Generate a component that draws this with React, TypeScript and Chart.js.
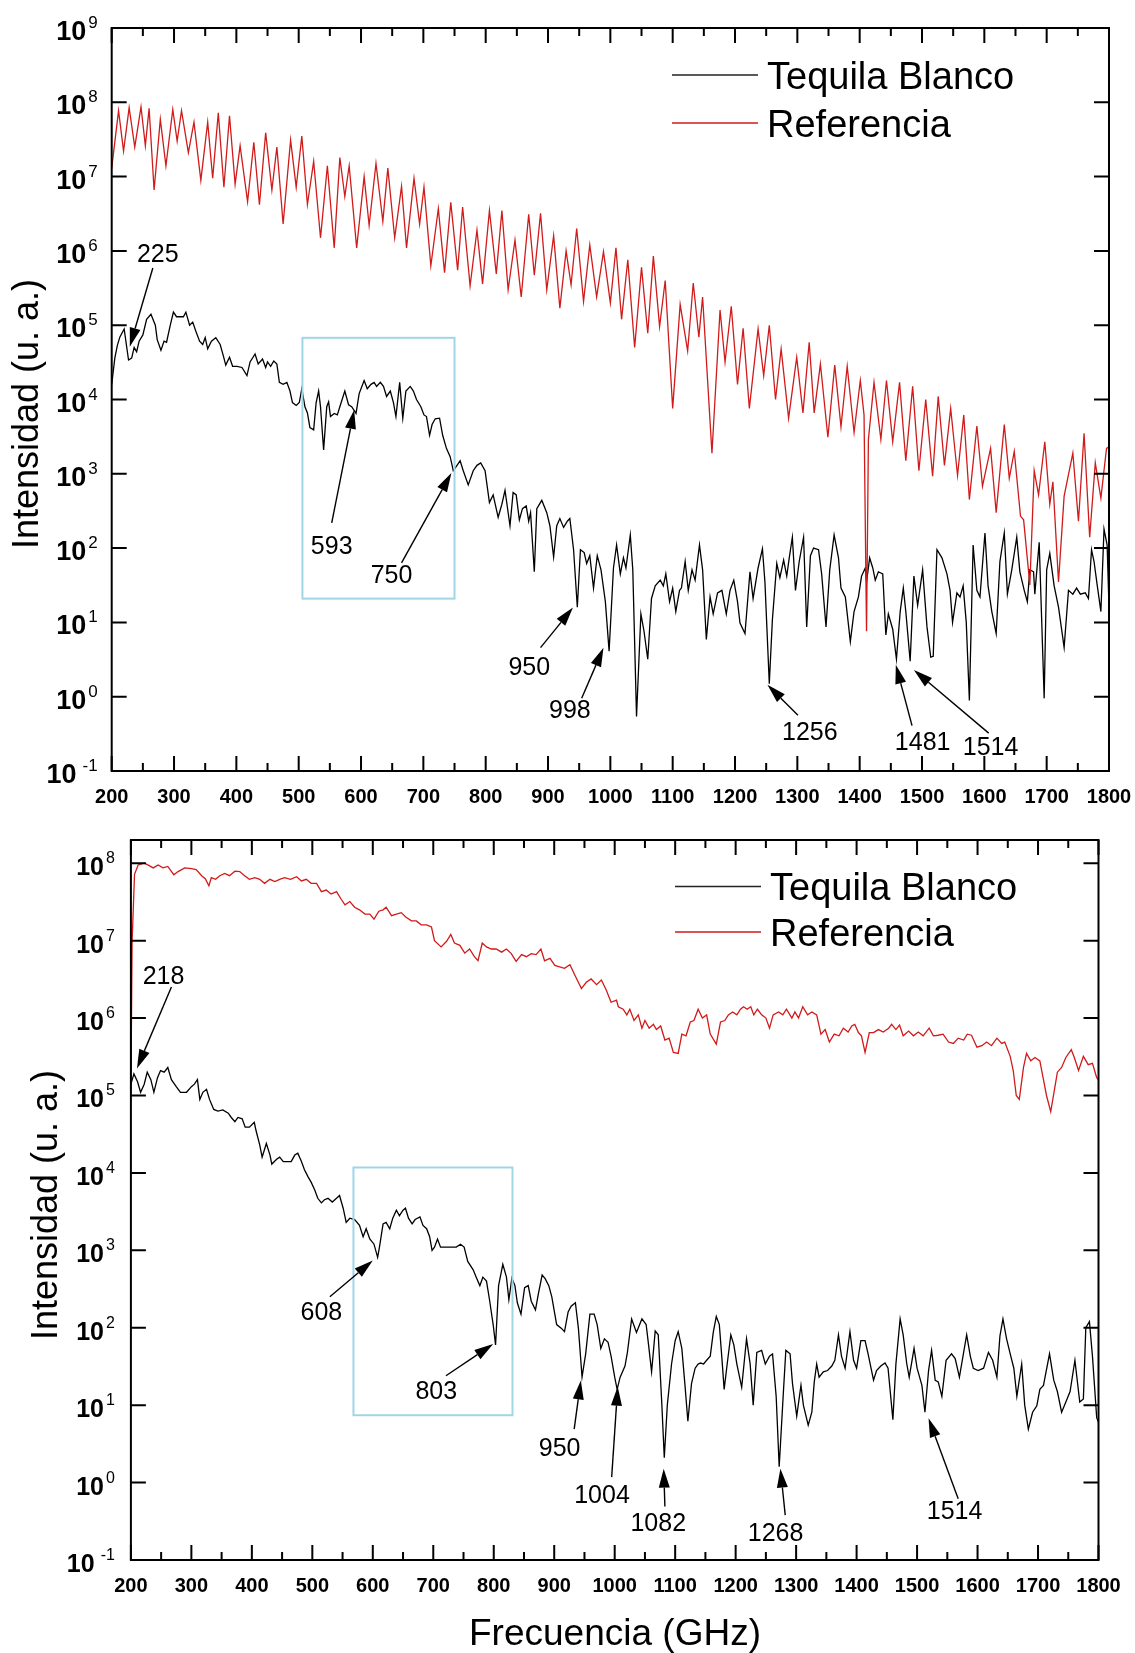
import React, { useEffect, useRef } from "react";
import { Chart, registerables } from "chart.js";

Chart.register(...registerables);

const FONT = "'Liberation Sans', Arial, Helvetica, sans-serif";
const RED = "#d11a1a";
const BLACK = "#000000";
const CYAN = "#9fd6e6";

// ---------- axis ticks ----------
const xMajorTicks = [200, 300, 400, 500, 600, 700, 800, 900, 1000, 1100, 1200, 1300, 1400, 1500, 1600, 1700, 1800];
const xMinorTicks = [250, 350, 450, 550, 650, 750, 850, 950, 1050, 1150, 1250, 1350, 1450, 1550, 1650, 1750];
const topDecades = [9, 8, 7, 6, 5, 4, 3, 2, 1, 0, -1];
const bottomDecades = [8, 7, 6, 5, 4, 3, 2, 1, 0, -1];

// ---------- top panel data: [frequency GHz, intensity u.a.] ----------
const topReferencia: [number, number][] = [
  [200, 1.3e7], [211, 7.7e7], [219, 2.2e7], [228, 8.5e7], [237, 2.5e7], [247, 8.7e7], [254, 2.6e7], [260, 8.3e7],
  [268, 6.6e6], [278, 5.9e7], [287, 1.4e7], [298, 8.0e7], [305, 3.0e7], [312, 7.7e7], [323, 2.1e7], [332, 5.4e7],
  [343, 8.9e6], [354, 5.4e7], [362, 9.5e6], [371, 7.2e7], [380, 7.2e6], [389, 6.6e7], [398, 7.9e6], [406, 2.6e7],
  [418, 4.6e6], [428, 2.9e7], [437, 4.2e6], [447, 3.9e7], [457, 6.6e6], [465, 2.5e7], [475, 2.3e6], [487, 3.1e7],
  [496, 7.2e6], [505, 3.5e7], [514, 4.2e6], [524, 1.6e7], [535, 1.5e6], [546, 1.4e7], [557, 1.1e6], [566, 1.8e7],
  [574, 5.4e6], [581, 1.4e7], [593, 1.1e6], [605, 1.0e7], [613, 2.2e6], [624, 1.5e7], [635, 2.5e6], [643, 1.3e7],
  [654, 1.5e6], [665, 7.4e6], [673, 1.1e6], [685, 9.5e6], [694, 2.3e6], [701, 7.2e6], [712, 6.3e5], [724, 3.7e6],
  [734, 5.1e5], [744, 4.5e6], [755, 5.5e5], [763, 3.9e6], [775, 3.4e5], [786, 1.9e6], [795, 3.6e5], [806, 3.5e6],
  [817, 4.9e5], [826, 3.5e6], [836, 3.0e5], [847, 1.4e6], [857, 2.4e5], [869, 3.1e6], [878, 4.7e5], [888, 3.2e6],
  [898, 3.0e5], [909, 1.6e6], [919, 1.7e5], [929, 1.0e6], [937, 3.5e5], [946, 2.0e6], [957, 2.1e5], [967, 1.2e6],
  [978, 2.4e5], [989, 9.8e5], [1000, 2.0e5], [1009, 1.1e6], [1018, 1.2e5], [1028, 7.6e5], [1039, 5.0e4], [1050, 6.0e5],
  [1060, 7.8e4], [1069, 8.5e5], [1079, 9.6e4], [1088, 4.0e5], [1100, 7.6e3], [1112, 1.9e5], [1124, 4.5e4], [1133, 3.7e5],
  [1142, 6.9e4], [1148, 2.4e5], [1163, 1.9e3], [1176, 1.6e5], [1184, 3.2e4], [1194, 1.8e5], [1204, 1.6e4], [1213, 9.1e4],
  [1223, 7.6e3], [1237, 8.9e4], [1246, 2.1e4], [1255, 1.0e5], [1265, 1.0e4], [1274, 4.8e4], [1286, 5.6e3], [1299, 3.7e4],
  [1309, 6.6e3], [1319, 5.9e4], [1327, 6.6e3], [1337, 3.0e4], [1349, 3.1e3], [1360, 2.9e4], [1370, 4.3e3], [1380, 2.8e4],
  [1391, 3.6e3], [1401, 1.8e4], [1407, 6.2e3], [1411, 7.6], [1414, 2.9e3], [1423, 1.7e4], [1434, 2.9e3], [1443, 1.8e4],
  [1453, 2.7e3], [1464, 1.7e4], [1474, 1.5e3], [1485, 1.5e4], [1495, 1.1e3], [1506, 1.0e4], [1517, 9.3e2], [1526, 1.1e4],
  [1536, 1.3e3], [1546, 7.6e3], [1557, 9.5e2], [1567, 6.2e3], [1576, 4.5e2], [1588, 4.4e3], [1597, 6.8e2], [1610, 2.2e3],
  [1619, 3.0e2], [1632, 4.6e3], [1640, 8.7e2], [1648, 2.0e3], [1658, 2.7e2], [1663, 2.4e2], [1673, 32], [1680, 1.1e3],
  [1687, 5.2e2], [1697, 2.7e3], [1705, 3.9e2], [1710, 7.8e2], [1719, 35], [1728, 5.0e2], [1742, 1.9e3], [1751, 2.3e2],
  [1760, 3.5e3], [1769, 1.4e2], [1778, 1.4e3], [1787, 4.7e2], [1796, 2.2e3], [1800, 2.3e3],
];

const topTequila: [number, number][] = [
  [200, 1.6e4], [205, 3.6e4], [209, 5.3e4], [213, 6.9e4], [220, 8.9e4], [227, 3.4e4], [232, 3.6e4], [236, 5.0e4],
  [240, 4.4e4], [244, 6.1e4], [250, 7.4e4], [256, 1.2e5], [263, 1.4e5], [270, 1.0e5], [273, 6.4e4], [279, 4.6e4],
  [284, 6.1e4], [288, 5.9e4], [294, 1.0e5], [299, 1.5e5], [304, 1.3e5], [311, 1.3e5], [315, 1.3e5], [319, 1.5e5],
  [325, 1.0e5], [330, 1.1e5], [335, 8.3e4], [341, 6.1e4], [346, 5.5e4], [350, 6.8e4], [354, 4.8e4], [360, 6.1e4],
  [367, 6.8e4], [374, 5.5e4], [379, 3.9e4], [383, 2.9e4], [389, 3.7e4], [394, 2.8e4], [401, 2.8e4], [409, 2.7e4],
  [417, 2.1e4], [422, 3.2e4], [430, 4.1e4], [435, 3.0e4], [442, 3.5e4], [447, 2.7e4], [450, 3.2e4], [455, 2.8e4],
  [460, 3.3e4], [465, 3.0e4], [469, 1.7e4], [475, 1.6e4], [481, 1.7e4], [486, 1.3e4], [490, 9.1e3], [496, 8.3e3],
  [501, 9.1e3], [505, 1.4e4], [510, 8.0e3], [514, 6.6e3], [518, 4.2e3], [524, 3.9e3], [528, 9.1e3], [532, 1.3e4],
  [535, 8.0e3], [540, 2.1e3], [545, 8.0e3], [548, 9.3e3], [551, 5.9e3], [557, 6.5e3], [562, 6.2e3], [566, 8.0e3],
  [574, 1.3e4], [580, 8.5e3], [585, 8.0e3], [592, 6.5e3], [597, 1.2e4], [605, 1.8e4], [610, 1.4e4], [616, 1.6e4],
  [621, 1.7e4], [625, 1.5e4], [631, 1.7e4], [636, 1.5e4], [641, 1.1e4], [647, 1.3e4], [652, 9.1e3], [656, 5.9e3],
  [662, 1.7e4], [667, 5.6e3], [672, 1.3e4], [679, 1.5e4], [684, 1.3e4], [689, 1.0e4], [696, 8.0e3], [701, 6.2e3],
  [705, 5.9e3], [710, 3.3e3], [714, 4.6e3], [719, 5.5e3], [726, 5.6e3], [731, 3.3e3], [737, 2.2e3], [743, 1.7e3],
  [748, 1.1e3], [754, 1.3e3], [759, 1.5e3], [764, 1.1e3], [772, 7.1e2], [780, 1.1e3], [786, 1.3e3], [792, 1.4e3],
  [799, 1.1e3], [806, 4.1e2], [812, 5.2e2], [820, 2.6e2], [826, 3.9e2], [831, 6.0e2], [839, 2.0e2], [844, 5.6e2],
  [849, 5.2e2], [854, 2.4e2], [859, 3.4e2], [865, 3.7e2], [869, 2.3e2], [872, 3.0e2], [878, 48], [882, 3.4e2],
  [890, 4.4e2], [898, 3.0e2], [903, 2.0e2], [909, 76], [914, 2.0e2], [919, 2.5e2], [925, 1.9e2], [931, 2.3e2],
  [935, 2.5e2], [941, 95], [947, 16], [952, 95], [958, 87], [962, 62], [967, 79], [973, 29],
  [979, 79], [985, 51], [992, 19], [998, 4.1], [1005, 54], [1010, 110], [1016, 45], [1021, 74],
  [1025, 54], [1032, 150], [1036, 51], [1042, 0.54], [1049, 13], [1054, 7.6], [1060, 3.2], [1066, 21],
  [1072, 31], [1080, 37], [1085, 31], [1089, 45], [1095, 19], [1100, 29], [1105, 14], [1111, 27],
  [1114, 29], [1120, 66], [1125, 27], [1131, 51], [1136, 37], [1143, 110], [1148, 51], [1154, 5.9],
  [1160, 22], [1165, 13], [1172, 25], [1179, 27], [1186, 13], [1192, 27], [1198, 37], [1204, 19],
  [1208, 9.8], [1216, 7.1], [1224, 48], [1229, 21], [1237, 54], [1244, 98], [1248, 35], [1255, 1.5],
  [1260, 11], [1267, 62], [1272, 40], [1278, 69], [1283, 42], [1287, 74], [1292, 140], [1297, 27],
  [1303, 66], [1310, 140], [1315, 8.7], [1321, 79], [1326, 100], [1334, 95], [1339, 45], [1346, 8.7],
  [1352, 51], [1359, 150], [1366, 74], [1370, 29], [1377, 22], [1385, 5.5], [1391, 14], [1398, 22],
  [1403, 42], [1409, 54], [1411, 35], [1416, 74], [1421, 54], [1425, 37], [1430, 48], [1437, 45],
  [1442, 6.8], [1446, 13], [1453, 8.1], [1459, 3.2], [1465, 14], [1470, 29], [1474, 14], [1481, 3.0],
  [1487, 42], [1493, 17], [1501, 51], [1508, 8.7], [1514, 3.4], [1518, 3.5], [1524, 95], [1532, 74],
  [1540, 45], [1545, 27], [1549, 10], [1556, 25], [1561, 22], [1566, 31], [1571, 10], [1576, 0.89],
  [1582, 110], [1588, 27], [1593, 22], [1601, 160], [1606, 31], [1612, 14], [1619, 7.1], [1625, 66],
  [1632, 160], [1637, 24], [1644, 51], [1652, 140], [1657, 48], [1664, 27], [1669, 19], [1673, 51],
  [1679, 48], [1681, 24], [1688, 120], [1696, 0.95], [1700, 51], [1705, 85], [1712, 31], [1719, 16],
  [1728, 4.6], [1735, 27], [1742, 24], [1748, 29], [1754, 24], [1762, 25], [1767, 21], [1772, 95],
  [1776, 66], [1781, 32], [1787, 14], [1792, 180], [1797, 110], [1800, 16],
];

// ---------- bottom panel data ----------
const bottomReferencia: [number, number][] = [
  [200, 1.1e5], [202, 9.8e6], [206, 7.2e7], [212, 9.5e7], [222, 1.0e8], [228, 9.5e7], [237, 8.7e7], [245, 9.5e7],
  [253, 8.7e7], [261, 9.1e7], [271, 7.1e7], [278, 7.8e7], [289, 8.7e7], [300, 8.5e7], [308, 8.3e7], [317, 6.9e7],
  [323, 6.3e7], [329, 5.1e7], [333, 6.5e7], [340, 6.2e7], [347, 6.9e7], [355, 7.4e7], [363, 6.9e7], [372, 7.9e7],
  [380, 7.8e7], [388, 6.9e7], [396, 6.2e7], [405, 6.5e7], [413, 6.2e7], [421, 5.5e7], [430, 6.2e7], [438, 5.8e7],
  [446, 6.2e7], [454, 6.5e7], [464, 6.2e7], [474, 6.7e7], [482, 5.9e7], [490, 6.2e7], [498, 5.5e7], [507, 5.5e7],
  [515, 4.3e7], [523, 4.5e7], [531, 4.0e7], [540, 4.3e7], [548, 3.4e7], [554, 2.9e7], [562, 3.2e7], [570, 2.7e7],
  [578, 2.5e7], [587, 2.2e7], [595, 2.2e7], [602, 1.9e7], [610, 2.4e7], [617, 2.5e7], [622, 2.7e7], [631, 2.1e7],
  [639, 2.2e7], [647, 2.3e7], [655, 2.0e7], [664, 1.8e7], [672, 1.8e7], [680, 1.6e7], [689, 1.6e7], [697, 1.5e7],
  [702, 1.0e7], [713, 8.3e6], [722, 9.8e6], [729, 1.2e7], [735, 9.3e6], [744, 8.7e6], [752, 6.9e6], [760, 7.8e6],
  [768, 6.2e6], [774, 5.5e6], [781, 9.3e6], [788, 8.3e6], [796, 7.8e6], [804, 7.8e6], [813, 7.1e6], [821, 7.8e6],
  [829, 6.8e6], [837, 5.4e6], [846, 6.6e6], [854, 6.2e6], [862, 6.8e6], [870, 6.6e6], [878, 7.8e6], [884, 5.5e6],
  [893, 5.9e6], [901, 4.8e6], [909, 4.6e6], [917, 4.4e6], [926, 4.9e6], [934, 3.6e6], [945, 2.4e6], [953, 2.9e6],
  [961, 3.2e6], [970, 2.7e6], [978, 3.1e6], [986, 2.3e6], [994, 1.6e6], [1003, 1.7e6], [1006, 1.4e6], [1014, 1.3e6],
  [1020, 1.1e6], [1025, 1.3e6], [1032, 9.3e5], [1039, 1.1e6], [1045, 7.4e5], [1050, 9.3e5], [1057, 7.4e5], [1064, 8.3e5],
  [1069, 7.1e5], [1076, 7.9e5], [1083, 5.2e5], [1090, 5.5e5], [1097, 3.6e5], [1105, 3.5e5], [1111, 6.2e5], [1118, 5.9e5],
  [1125, 8.9e5], [1131, 9.3e5], [1138, 1.3e6], [1145, 1.0e6], [1152, 1.1e6], [1158, 6.2e5], [1168, 4.6e5], [1175, 8.9e5],
  [1182, 9.3e5], [1188, 1.1e6], [1195, 1.2e6], [1202, 1.1e6], [1208, 1.3e6], [1213, 1.4e6], [1219, 1.3e6], [1225, 1.4e6],
  [1230, 1.1e6], [1236, 1.3e6], [1243, 1.1e6], [1250, 1.0e6], [1256, 7.4e5], [1262, 1.1e6], [1271, 1.2e6], [1278, 1.1e6],
  [1284, 1.3e6], [1293, 1.0e6], [1298, 1.2e6], [1304, 1.0e6], [1311, 1.4e6], [1319, 1.1e6], [1326, 1.2e6], [1334, 1.1e6],
  [1341, 6.2e5], [1348, 7.1e5], [1355, 4.9e5], [1363, 6.2e5], [1371, 5.9e5], [1378, 7.4e5], [1386, 6.6e5], [1392, 7.9e5],
  [1397, 8.3e5], [1403, 6.5e5], [1408, 5.9e5], [1414, 3.6e5], [1421, 6.5e5], [1428, 6.5e5], [1436, 7.1e5], [1444, 6.6e5],
  [1453, 7.4e5], [1458, 8.3e5], [1465, 7.1e5], [1471, 8.1e5], [1477, 5.9e5], [1486, 6.8e5], [1494, 5.9e5], [1502, 6.6e5],
  [1510, 5.9e5], [1520, 7.4e5], [1527, 5.9e5], [1535, 6.0e5], [1543, 6.2e5], [1552, 4.9e5], [1560, 4.7e5], [1568, 5.5e5],
  [1577, 5.2e5], [1583, 6.2e5], [1590, 6.0e5], [1599, 4.2e5], [1607, 4.4e5], [1615, 4.9e5], [1623, 4.4e5], [1632, 5.5e5],
  [1640, 4.7e5], [1645, 4.9e5], [1654, 3.2e5], [1659, 2.1e5], [1664, 1.0e5], [1669, 8.9e4], [1676, 2.3e5], [1681, 3.5e5],
  [1688, 2.8e5], [1695, 3.1e5], [1703, 2.8e5], [1709, 1.6e5], [1714, 1.0e5], [1721, 6.2e4], [1728, 1.3e5], [1732, 2.0e5],
  [1739, 2.3e5], [1746, 3.1e5], [1755, 3.9e5], [1760, 3.1e5], [1767, 2.1e5], [1775, 3.2e5], [1783, 2.5e5], [1790, 2.6e5],
  [1797, 1.7e5], [1800, 1.6e5],
];

const bottomTequila: [number, number][] = [
  [200, 1.4e5], [205, 1.9e5], [211, 1.5e5], [216, 1.1e5], [222, 1.4e5], [227, 2.0e5], [233, 1.6e5], [238, 1.1e5],
  [244, 1.7e5], [249, 2.1e5], [255, 2.0e5], [261, 2.3e5], [267, 1.6e5], [275, 1.3e5], [282, 1.1e5], [292, 1.1e5],
  [300, 1.3e5], [305, 1.4e5], [310, 1.6e5], [314, 8.9e4], [319, 1.1e5], [325, 1.2e5], [330, 8.9e4], [337, 6.6e4],
  [344, 6.3e4], [352, 6.5e4], [361, 5.9e4], [366, 5.2e4], [372, 4.6e4], [377, 5.2e4], [384, 5.0e4], [389, 3.9e4],
  [396, 3.9e4], [404, 4.5e4], [407, 3.5e4], [413, 2.3e4], [417, 1.6e4], [424, 2.4e4], [430, 1.7e4], [433, 1.3e4],
  [441, 1.5e4], [446, 1.6e4], [452, 1.4e4], [457, 1.4e4], [465, 1.4e4], [471, 1.7e4], [476, 1.8e4], [482, 1.4e4],
  [487, 1.1e4], [493, 8.9e3], [498, 7.6e3], [504, 6.0e3], [509, 4.7e3], [515, 4.1e3], [520, 4.5e3], [526, 4.7e3],
  [533, 4.2e3], [540, 4.7e3], [545, 5.1e3], [551, 3.5e3], [556, 2.3e3], [562, 2.6e3], [570, 2.5e3], [578, 2.1e3],
  [584, 1.5e3], [589, 1.9e3], [595, 1.4e3], [602, 1.2e3], [608, 8.1e2], [611, 1.1e3], [617, 2.2e3], [622, 2.3e3],
  [628, 1.9e3], [633, 2.6e3], [639, 3.3e3], [644, 2.8e3], [650, 3.3e3], [654, 3.5e3], [659, 2.6e3], [665, 2.2e3],
  [670, 2.5e3], [678, 2.7e3], [683, 2.1e3], [689, 1.9e3], [694, 1.5e3], [698, 1.0e3], [702, 1.1e3], [707, 1.4e3],
  [712, 1.1e3], [719, 1.1e3], [724, 1.1e3], [731, 1.1e3], [738, 1.1e3], [745, 1.2e3], [751, 1.1e3], [757, 7.2e2],
  [766, 5.6e2], [771, 4.5e2], [777, 3.5e2], [782, 4.5e2], [788, 4.0e2], [793, 2.3e2], [799, 1.1e2], [803, 60],
  [808, 3.5e2], [815, 6.6e2], [821, 4.5e2], [825, 2.3e2], [830, 4.4e2], [835, 3.5e2], [839, 2.1e2], [845, 1.5e2],
  [851, 3.3e2], [857, 3.5e2], [862, 2.2e2], [869, 1.7e2], [874, 2.8e2], [880, 4.8e2], [885, 4.3e2], [891, 3.5e2],
  [896, 2.5e2], [904, 1.1e2], [912, 98], [917, 89], [923, 160], [928, 190], [935, 210], [940, 98],
  [946, 23], [952, 46], [959, 150], [966, 150], [971, 110], [977, 54], [983, 72], [989, 65],
  [994, 43], [1000, 23], [1004, 16], [1009, 23], [1017, 32], [1021, 48], [1028, 130], [1036, 87],
  [1045, 130], [1052, 110], [1056, 60], [1061, 27], [1067, 91], [1072, 81], [1078, 10], [1082, 2.1],
  [1087, 10], [1094, 34], [1100, 68], [1105, 89], [1111, 54], [1116, 19], [1121, 6.2], [1127, 19],
  [1133, 30], [1138, 34], [1142, 35], [1147, 34], [1152, 38], [1158, 43], [1163, 87], [1168, 140],
  [1173, 110], [1177, 43], [1181, 16], [1186, 34], [1192, 81], [1197, 60], [1202, 34], [1210, 17],
  [1218, 72], [1224, 34], [1229, 10], [1235, 48], [1243, 51], [1249, 34], [1256, 43], [1261, 46],
  [1267, 13], [1272, 1.6], [1279, 15], [1283, 51], [1290, 46], [1294, 19], [1301, 7.2], [1308, 18],
  [1312, 10], [1320, 5.5], [1326, 8.1], [1330, 20], [1334, 34], [1338, 23], [1345, 27], [1352, 28],
  [1359, 32], [1364, 38], [1370, 81], [1375, 43], [1381, 30], [1389, 89], [1395, 38], [1400, 30],
  [1407, 68], [1414, 68], [1419, 46], [1428, 21], [1433, 28], [1440, 32], [1447, 35], [1452, 30],
  [1460, 6.5], [1465, 34], [1472, 130], [1477, 81], [1483, 34], [1487, 23], [1495, 54], [1500, 30],
  [1508, 18], [1513, 8.1], [1519, 28], [1524, 51], [1530, 21], [1535, 20], [1541, 13], [1548, 38],
  [1557, 46], [1563, 40], [1570, 23], [1577, 48], [1582, 81], [1588, 43], [1593, 30], [1601, 28],
  [1610, 30], [1618, 48], [1625, 38], [1632, 23], [1637, 78], [1642, 130], [1648, 72], [1654, 46],
  [1660, 30], [1665, 13], [1673, 34], [1678, 10], [1684, 4.9], [1691, 8.1], [1698, 9.8], [1703, 16],
  [1709, 18], [1719, 46], [1726, 21], [1732, 15], [1739, 8.1], [1746, 11], [1753, 15], [1761, 38],
  [1769, 11], [1775, 12], [1779, 100], [1785, 120], [1790, 43], [1797, 6.9], [1800, 6.0],
];

// ---------- annotations (label, text position, arrow tail, arrow tip) in data units ----------
type Ann = { label: string; text: [number, number]; from: [number, number]; to: [number, number] };

const topAnnotations: Ann[] = [
  { label: "225", text: [274, 10 ** 5.94], from: [266, 10 ** 5.77], to: [229, 10 ** 4.71] },
  { label: "593", text: [553, 10 ** 2.02], from: [553, 10 ** 2.34], to: [589, 10 ** 3.86] },
  { label: "750", text: [649, 10 ** 1.62], from: [665, 10 ** 1.8], to: [745, 10 ** 3.01] },
  { label: "950", text: [870, 10 ** 0.39], from: [888, 10 ** 0.66], to: [940, 10 ** 1.2] },
  { label: "998", text: [935, 10 ** -0.2], from: [954, 10 ** -0.02], to: [989, 10 ** 0.66] },
  { label: "1256", text: [1320, 10 ** -0.49], from: [1301, 10 ** -0.25], to: [1252, 10 ** 0.16] },
  { label: "1481", text: [1501, 10 ** -0.63], from: [1484, 10 ** -0.39], to: [1458, 10 ** 0.43] },
  { label: "1514", text: [1610, 10 ** -0.69], from: [1607, 10 ** -0.49], to: [1487, 10 ** 0.36] },
];

const bottomAnnotations: Ann[] = [
  { label: "218", text: [254, 10 ** 6.53], from: [267, 10 ** 6.4], to: [210, 10 ** 5.35] },
  { label: "608", text: [515, 10 ** 2.19], from: [529, 10 ** 2.4], to: [600, 10 ** 2.87] },
  { label: "803", text: [705, 10 ** 1.17], from: [721, 10 ** 1.38], to: [799, 10 ** 1.79] },
  { label: "950", text: [909, 10 ** 0.43], from: [933, 10 ** 0.69], to: [944, 10 ** 1.32] },
  { label: "1004", text: [979, 10 ** -0.18], from: [995, 10 ** 0.07], to: [1005, 10 ** 1.24] },
  { label: "1082", text: [1072, 10 ** -0.53], from: [1083, 10 ** -0.31], to: [1081, 10 ** 0.18] },
  { label: "1268", text: [1266, 10 ** -0.66], from: [1282, 10 ** -0.42], to: [1274, 10 ** 0.18] },
  { label: "1514", text: [1562, 10 ** -0.38], from: [1568, 10 ** -0.21], to: [1519, 10 ** 0.83] },
];

// highlighted regions [fMin, fMax, yTop, yBottom]
const topBox: [number, number, number, number] = [506, 750, 10 ** 4.83, 10 ** 1.32];
const bottomBox: [number, number, number, number] = [568, 831, 10 ** 4.07, 10 ** 0.87];

type PanelCfg = {
  height: number;
  padding: { left: number; top: number; right: number; bottom: number };
  yMax: number;
  decades: number[];
  yFont: number;
  supFont: number;
  labelGap: number;
  legend: { x: number; dy1: number; dy2: number };
  yTitle: { x: number; y: number };
  xTitle: { x: number; y: number } | null;
  box: [number, number, number, number];
  annotations: Ann[];
  referencia: [number, number][];
  tequila: [number, number][];
};

function drawArrow(ctx: CanvasRenderingContext2D, x0: number, y0: number, x1: number, y1: number) {
  const ang = Math.atan2(y1 - y0, x1 - x0);
  const hl = 19;
  const hw = 5.5;
  const bx = x1 - hl * Math.cos(ang);
  const by = y1 - hl * Math.sin(ang);
  ctx.beginPath();
  ctx.moveTo(x0, y0);
  ctx.lineTo(bx, by);
  ctx.stroke();
  ctx.beginPath();
  ctx.moveTo(x1, y1);
  ctx.lineTo(bx + hw * Math.sin(ang), by - hw * Math.cos(ang));
  ctx.lineTo(bx - hw * Math.sin(ang), by + hw * Math.cos(ang));
  ctx.closePath();
  ctx.fill();
}

function makePlugin(cfg: PanelCfg) {
  return {
    id: "panelDecor",
    afterDatasetsDraw(chart: any) {
      const ctx: CanvasRenderingContext2D = chart.ctx;
      const a = chart.chartArea;
      const xs = chart.scales.x;
      const ys = chart.scales.y;
      ctx.save();

      // highlighted box
      const [b0, b1, bt, bb] = cfg.box;
      ctx.strokeStyle = CYAN;
      ctx.lineWidth = 2;
      const bxL = xs.getPixelForValue(b0);
      const bxR = xs.getPixelForValue(b1);
      const byT = ys.getPixelForValue(bt);
      const byB = ys.getPixelForValue(bb);
      ctx.strokeRect(bxL, byT, bxR - bxL, byB - byT);

      // frame
      ctx.strokeStyle = BLACK;
      ctx.lineWidth = 2;
      ctx.strokeRect(a.left, a.top, a.right - a.left, a.bottom - a.top);

      // x ticks (inward, top and bottom)
      ctx.lineWidth = 2;
      ctx.beginPath();
      const xTick = (v: number, len: number) => {
        const px = xs.getPixelForValue(v);
        ctx.moveTo(px, a.bottom);
        ctx.lineTo(px, a.bottom - len);
        ctx.moveTo(px, a.top);
        ctx.lineTo(px, a.top + len);
      };
      xMajorTicks.forEach((v) => xTick(v, 15));
      xMinorTicks.forEach((v) => xTick(v, 8));
      // y ticks (inward, left and right)
      cfg.decades.forEach((e) => {
        const py = ys.getPixelForValue(10 ** e);
        ctx.moveTo(a.left, py);
        ctx.lineTo(a.left + 15, py);
        ctx.moveTo(a.right, py);
        ctx.lineTo(a.right - 15, py);
      });
      ctx.stroke();

      // x tick labels
      ctx.fillStyle = BLACK;
      ctx.font = `bold 20px ${FONT}`;
      ctx.textAlign = "center";
      ctx.textBaseline = "alphabetic";
      xMajorTicks.forEach((v) => {
        ctx.fillText(String(v), xs.getPixelForValue(v), a.bottom + 32);
      });

      // y tick labels 10^e
      cfg.decades.forEach((e) => {
        const py = ys.getPixelForValue(10 ** e);
        const sup = e < 0 ? "-" + String(-e) : String(e);
        ctx.font = `${cfg.supFont}px ${FONT}`;
        const wSup = ctx.measureText(sup).width;
        ctx.font = `bold ${cfg.yFont}px ${FONT}`;
        const wBase = ctx.measureText("10").width;
        const xRight = a.left - cfg.labelGap;
        const x0 = xRight - wSup - (e < 0 ? 6 : 2) - wBase;
        ctx.textAlign = "left";
        ctx.fillText("10", x0, py + 12);
        ctx.font = `${cfg.supFont}px ${FONT}`;
        ctx.fillText(sup, x0 + wBase + (e < 0 ? 6 : 2), py);
      });

      // axis titles
      ctx.font = `36px ${FONT}`;
      ctx.textAlign = "center";
      ctx.textBaseline = "middle";
      ctx.save();
      ctx.translate(cfg.yTitle.x, cfg.yTitle.y);
      ctx.rotate(-Math.PI / 2);
      ctx.fillText("Intensidad (u. a.)", 0, 0);
      ctx.restore();
      if (cfg.xTitle) {
        ctx.font = `37px ${FONT}`;
        ctx.textBaseline = "alphabetic";
        ctx.fillText("Frecuencia (GHz)", cfg.xTitle.x, cfg.xTitle.y);
      }

      // legend
      const lx = a.right - cfg.legend.x;
      const rows: [string, string, number][] = [
        ["Tequila Blanco", "#222222", a.top + cfg.legend.dy1],
        ["Referencia", RED, a.top + cfg.legend.dy2],
      ];
      rows.forEach(([label, color, ly]) => {
        ctx.strokeStyle = color;
        ctx.lineWidth = 1.5;
        ctx.beginPath();
        ctx.moveTo(lx, ly);
        ctx.lineTo(lx + 86, ly);
        ctx.stroke();
        ctx.fillStyle = BLACK;
        ctx.font = `38px ${FONT}`;
        ctx.textAlign = "left";
        ctx.textBaseline = "alphabetic";
        ctx.fillText(label, lx + 95, ly + 14);
      });

      // annotations
      ctx.strokeStyle = BLACK;
      ctx.fillStyle = BLACK;
      ctx.lineWidth = 1.4;
      ctx.font = `25px ${FONT}`;
      ctx.textAlign = "center";
      ctx.textBaseline = "middle";
      cfg.annotations.forEach((an) => {
        ctx.fillText(an.label, xs.getPixelForValue(an.text[0]), ys.getPixelForValue(an.text[1]));
        drawArrow(
          ctx,
          xs.getPixelForValue(an.from[0]),
          ys.getPixelForValue(an.from[1]),
          xs.getPixelForValue(an.to[0]),
          ys.getPixelForValue(an.to[1])
        );
      });

      ctx.restore();
    },
  };
}

function makeChart(canvas: HTMLCanvasElement, cfg: PanelCfg) {
  const toPts = (arr: [number, number][]) => arr.map(([x, y]) => ({ x, y }));
  return new Chart(canvas, {
    type: "line",
    data: {
      datasets: [
        {
          label: "Referencia",
          data: toPts(cfg.referencia),
          borderColor: RED,
          backgroundColor: RED,
          borderWidth: 1.3,
          pointRadius: 0,
          tension: 0,
          fill: false,
          order: 0,
        },
        {
          label: "Tequila Blanco",
          data: toPts(cfg.tequila),
          borderColor: BLACK,
          backgroundColor: BLACK,
          borderWidth: 1.3,
          pointRadius: 0,
          tension: 0,
          fill: false,
          order: 1,
        },
      ],
    } as any,
    options: {
      responsive: false,
      animation: false,
      events: [],
      layout: { padding: cfg.padding },
      scales: {
        x: { type: "linear", min: 200, max: 1800, display: false },
        y: { type: "logarithmic", min: 0.1, max: cfg.yMax, display: false },
      },
      plugins: {
        legend: { display: false },
        tooltip: { enabled: false },
        title: { display: false },
      },
    } as any,
    plugins: [makePlugin(cfg)],
  });
}

const topCfg: PanelCfg = {
  height: 815,
  padding: { left: 111.7, top: 28, right: 26, bottom: 44 },
  yMax: 1e9,
  decades: topDecades,
  yFont: 27,
  supFont: 17,
  labelGap: 14,
  legend: { x: 437, dy1: 47, dy2: 95 },
  yTitle: { x: 28.5, y: 414 },
  xTitle: null,
  box: topBox,
  annotations: topAnnotations,
  referencia: topReferencia,
  tequila: topTequila,
};

const bottomCfg: PanelCfg = {
  height: 838,
  padding: { left: 130.9, top: 25, right: 36.5, bottom: 93 },
  yMax: 10 ** 8.3,
  decades: bottomDecades,
  yFont: 25,
  supFont: 16,
  labelGap: 16,
  legend: { x: 423.5, dy1: 46.4, dy2: 91.9 },
  yTitle: { x: 47, y: 390 },
  xTitle: { x: 615, y: 830 },
  box: bottomBox,
  annotations: bottomAnnotations,
  referencia: bottomReferencia,
  tequila: bottomTequila,
};

export default function App() {
  const topRef = useRef<HTMLCanvasElement>(null);
  const botRef = useRef<HTMLCanvasElement>(null);
  useEffect(() => {
    document.body.style.margin = "0";
    const c1 = makeChart(topRef.current as HTMLCanvasElement, topCfg);
    const c2 = makeChart(botRef.current as HTMLCanvasElement, bottomCfg);
    return () => {
      c1.destroy();
      c2.destroy();
    };
  }, []);
  return (
    <div
      style={{
        position: "absolute",
        left: 0,
        top: 0,
        width: 1135,
        height: 1653,
        background: "#ffffff",
        overflow: "hidden",
      }}
    >
      <canvas
        ref={topRef}
        width={1135}
        height={topCfg.height}
        style={{ position: "absolute", left: 0, top: 0, width: 1135, height: topCfg.height }}
      />
      <canvas
        ref={botRef}
        width={1135}
        height={bottomCfg.height}
        style={{ position: "absolute", left: 0, top: 815, width: 1135, height: bottomCfg.height }}
      />
    </div>
  );
}
